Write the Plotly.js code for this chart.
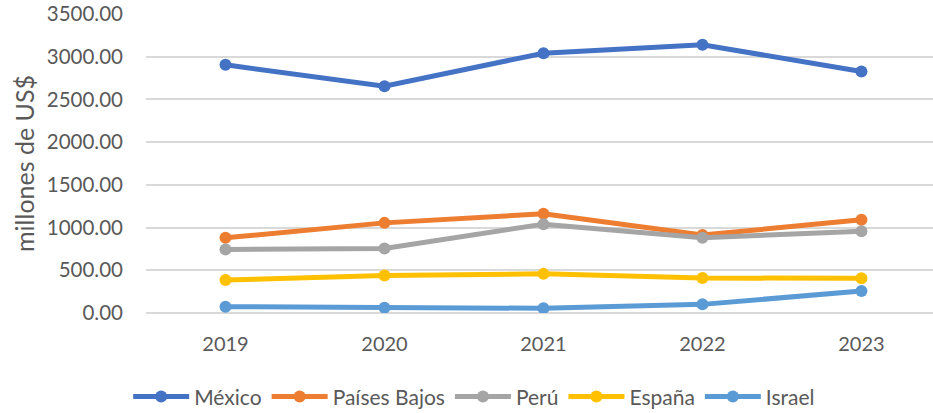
<!DOCTYPE html>
<html>
<head>
<meta charset="utf-8">
<script src="https://cdn.plot.ly/plotly-3.0.1.min.js"></script>
<style>
  html, body { margin: 0; padding: 0; background: #fff; }
  #chart { width: 933px; height: 413px; }
</style>
</head>
<body>
<div id="chart"></div>
<script>
// Years on the category axis
const years = ['2019', '2020', '2021', '2022', '2023'];

// Values in millions of US$
const mexico = [2905, 2655, 3041, 3139, 2827];
const paisesBajos = [880, 1055, 1162, 912, 1092];
const peru = [744, 756, 1040, 880, 958];
const espana = [385, 440, 458, 409, 407];
const israel = [74, 62, 55, 101, 257];

const seriesNames = ['México', 'Países Bajos', 'Perú', 'España', 'Israel'];
const seriesColors = ['#4472C4', '#ED7D31', '#A5A5A5', '#FFC000', '#5B9BD5'];
const seriesValues = [mexico, paisesBajos, peru, espana, israel];

const traces = seriesValues.map((vals, i) => ({
    name: seriesNames[i],
    x: years,
    y: vals,
    type: 'scatter',
    mode: 'lines+markers',
    line: { color: seriesColors[i], width: 5 },
    marker: { color: seriesColors[i], size: 12 }
}));

const font = 'Lato, "Open Sans", sans-serif';

const layout = {
    width: 933,
    height: 413,
    margin: { l: 146, r: 0, t: 14, b: 100 },
    paper_bgcolor: '#ffffff',
    plot_bgcolor: '#ffffff',
    font: { family: font, size: 20, color: '#595959' },
    showlegend: true,
    legend: {
        orientation: 'h',
        x: 0.417,
        xanchor: 'center',
        xref: 'paper',
        y: 0.039,
        yanchor: 'middle',
        yref: 'container',
        font: { family: font, size: 21, color: '#595959' },
        traceorder: 'normal',
        itemwidth: 56
    },
    xaxis: {
        type: 'category',
        range: [-0.5, 4.45],
        automargin: false,
        showgrid: false,
        zeroline: false,
        showline: false,
        ticks: '',
        ticklabelstandoff: 17,
        tickfont: { family: font, size: 20, color: '#595959' }
    },
    yaxis: {
        range: [0, 3500],
        dtick: 500,
        tickformat: '.2f',
        automargin: false,
        showgrid: true,
        gridcolor: '#D9D9D9',
        gridwidth: 1.5,
        zeroline: true,
        zerolinecolor: '#D9D9D9',
        zerolinewidth: 1.5,
        showline: false,
        ticks: '',
        ticklabelstandoff: 22,
        tickfont: { family: font, size: 20.5, color: '#595959' },
        title: {
            text: 'millones de US$',
            font: { family: font, size: 25, color: '#595959' },
            standoff: 5
        }
    }
};

Plotly.newPlot('chart', traces, layout, { displayModeBar: false, responsive: false });
</script>
</body>
</html>
